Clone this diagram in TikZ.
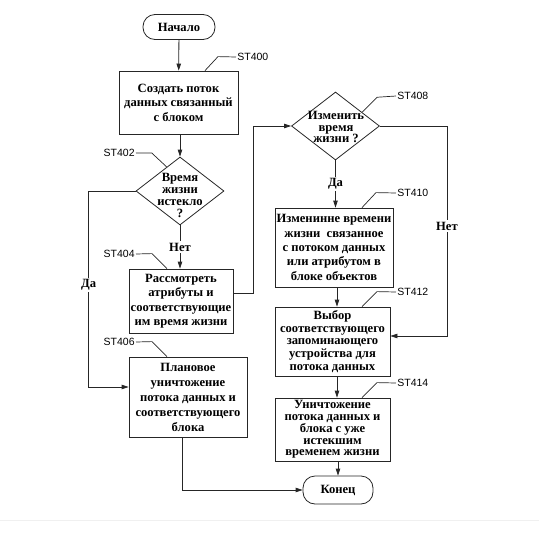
\documentclass[tikz,border=0pt]{standalone}
\usepackage{fontspec}
\setmainfont{Liberation Serif}
\newfontfamily\stfont{Liberation Sans}
\usetikzlibrary{arrows.meta,shapes.geometric,calc}
\begin{document}
\begin{tikzpicture}[x=1pt,y=-1pt,
  line width=0.8pt, draw=black!85,
  txt/.style={font=\bfseries\fontsize{12.6}{#1}\selectfont, text=black},
  box/.style={draw, rectangle, align=center, inner sep=0pt},
  term/.style={draw, rectangle, rounded corners=12pt, inner sep=0pt, align=center,
    font=\bfseries\fontsize{12.6}{14}\selectfont},
  dia/.style={draw, diamond, inner sep=0pt, minimum width=88pt, minimum height=68pt},
  diatext/.style={align=center, inner sep=0pt},
  arr/.style={-{Triangle[length=7pt,width=4.5pt]}},
  lab/.style={fill=white, inner sep=1.5pt, font=\bfseries\fontsize{12.6}{14}\selectfont},
  st/.style={font=\stfont\fontsize{10.5}{12}\selectfont, inner sep=1pt},
  lead/.style={line width=0.7pt}]
\useasboundingbox (0,0) rectangle (539,552);
\draw[gray!12, line width=1pt] (0,520) -- (539,520);

% nodes
\node[term, minimum width=72pt, minimum height=25pt] (start) at (179,27) {Начало};
\node[box, txt=14.5, minimum width=119pt, minimum height=63pt] (s400) at (178.5,102.5)
  {Создать поток\\данных связанный\\с блоком};
\node[dia] (d402) at (180,191) {};
\node[diatext, txt=12] (d402t) at (180,195) {Время\\жизни\\истекло\\?};
\node[box, txt=14.5, minimum width=104pt, minimum height=64pt] (s404) at (181,301)
  {Рассмотреть\\атрибуты и\\соответствующие\\им время жизни};
\node[box, txt=15, minimum width=118pt, minimum height=80pt] (s406) at (188,397)
  {Плановое\\уничтожение\\потока данных и\\соответствующего\\блока};
\node[dia] (d408) at (335.5,126) {};
\node[diatext, txt=11.6] (d408t) at (336,127) {Изменить\\время\\жизни ?};
\node[box, txt=14.3, minimum width=118pt, minimum height=79pt] (s410) at (334,247.5)
  {Изменинне времени\\жизни~~связанное\\с потоком данных\\или атрибутом в\\блоке объектов};
\node[box, txt=12.8, minimum width=115pt, minimum height=69pt] (s412) at (332.5,341.5)
  {Выбор\\соответствующего\\запоминающего\\устройства для\\потока данных};
\node[box, txt=11.8, minimum width=115pt, minimum height=63pt] (s414) at (332.5,429.5)
  {Уничтожение\\потока данных и\\блока с уже\\истекшим\\временем жизни};
\node[term, minimum width=70pt, minimum height=28pt] (end) at (338,490) {Конец};

% step labels
\node[st, anchor=west] (t400) at (236,57) {ST400};
\node[st, anchor=east] (t402) at (136,153) {ST402};
\node[st, anchor=east] (t404) at (136,254) {ST404};
\node[st, anchor=east] (t406) at (136,342) {ST406};
\node[st, anchor=west] (t408) at (396,96) {ST408};
\node[st, anchor=west] (t410) at (396,193) {ST410};
\node[st, anchor=west] (t412) at (396,292) {ST412};
\node[st, anchor=west] (t414) at (396,383) {ST414};

\draw[lead] ([xshift=26.5pt]s400.north) -- ++(13,-14) -- (t400.west);
\draw[lead] ($(d402.north)!0.3!(d402.west)$) -- ++(-15,-14) -- (t402.east);
\draw[lead] ([xshift=-14pt]s404.north) -- ++(-15,-15) -- (t404.east);
\draw[lead] ([xshift=-21pt]s406.north) -- ++(-15,-15) -- (t406.east);
\draw[lead] ($(d408.north)!0.6!(d408.east)$) -- ++(15,-15) -- (t408.west);
\draw[lead] ([xshift=28pt]s410.north) -- ++(14,-15) -- (t410.west);
\draw[lead] ([xshift=29.5pt]s412.north) -- ++(15,-15) -- (t412.west);
\draw[lead] ([xshift=29.5pt]s414.north) -- ++(15,-15) -- (t414.west);

% connectors
\draw[arr] (start) -- (s400);
\draw[arr] (s400.south -| d402.north) -- (d402.north);
\draw[arr] (d402.south) -- node[lab] {Нет} (s404.north -| d402.south);
\draw[arr] (d402.west) -- ++(-47,0) |- node[lab, pos=0.24] {Да} ([yshift=10pt]s406.west);
\draw[arr] ([yshift=8pt]s404.east) -- ++(20,0) |- (d408.west);
\draw[arr] (d408.south) -- node[lab] {Да} (s410.north -| d408.south);
\draw[arr] (d408.east) -- ++(67,0) |- node[lab, pos=0.238] {Нет} ([yshift=5.5pt]s412.east);
\draw[arr] ([xshift=3pt]s410.south) -- ([xshift=3pt]s410.south |- s412.north);
\draw[arr] ([xshift=4.5pt]s412.south) -- ([xshift=4.5pt]s412.south |- s414.north);
\draw[arr] (s414.south -| end.north) -- (end.north);
\draw[arr] ([xshift=-6pt]s406.south) |- (end.west);
\end{tikzpicture}
\end{document}
